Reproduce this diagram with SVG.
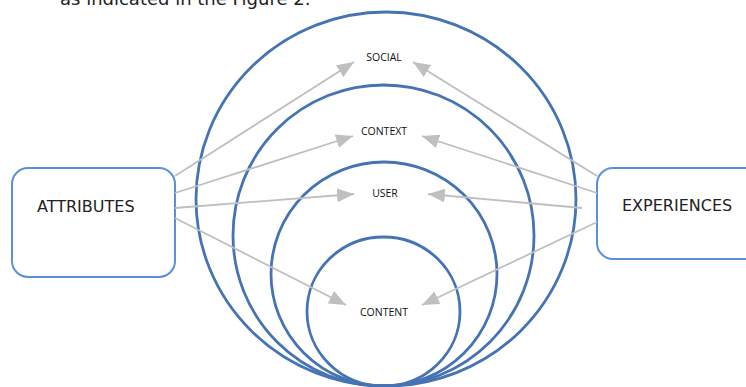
<svg xmlns="http://www.w3.org/2000/svg" width="746" height="387" viewBox="0 0 746 387">
<style>
.ring{fill:none;stroke:#4673b3;stroke-width:2.8}
.box{fill:#fff;stroke:#5b8fd6;stroke-width:2}
.conn{stroke:#bfbfbf;stroke-width:1.8;fill:none;marker-end:url(#ah)}
.lbl{font-family:"Open Sans","Liberation Sans",sans-serif;font-size:10.5px;fill:#111;text-anchor:middle}
.big{font-family:"DejaVu Sans","Liberation Sans",sans-serif;font-size:16px;fill:#222}
.cap{font-family:"DejaVu Sans","Liberation Sans",sans-serif;font-size:18px;fill:#222}
</style>
<defs>
<marker id="ah" viewBox="0 0 17 14" refX="17" refY="7" markerWidth="17" markerHeight="14" markerUnits="userSpaceOnUse" orient="auto">
<path d="M0,0 L17,7 L0,14 z" fill="#bfbfbf"/>
</marker>
</defs>
<rect width="746" height="387" fill="#fff"/>
<text class="cap" x="60" y="5">as indicated in the Figure 2.</text>
<g id="rings">
<g id="social"><ellipse class="ring" cx="386" cy="199" rx="190" ry="187"/><text class="lbl" x="384" y="61">SOCIAL</text></g>
<g id="context"><ellipse class="ring" cx="383.5" cy="235.5" rx="150.5" ry="150.5"/><text class="lbl" x="384" y="135">CONTEXT</text></g>
<g id="user"><ellipse class="ring" cx="384" cy="274" rx="113" ry="112"/><text class="lbl" x="385" y="197">USER</text></g>
<g id="content"><ellipse class="ring" cx="383.5" cy="311.5" rx="76.5" ry="74.5"/><text class="lbl" x="384" y="316">CONTENT</text></g>
</g>
<g id="attributes"><rect class="box" x="12" y="168" width="163" height="109" rx="16"/><text class="big" x="37" y="212">ATTRIBUTES</text></g>
<g id="experiences"><rect class="box" x="597" y="168" width="170" height="91" rx="16"/><text class="big" x="622" y="211">EXPERIENCES</text></g>
<g id="connectors">
<line class="conn" x1="175" y1="176" x2="354" y2="62"/>
<line class="conn" x1="175" y1="193" x2="353" y2="136"/>
<line class="conn" x1="175" y1="208" x2="354" y2="194"/>
<line class="conn" x1="175" y1="218" x2="346" y2="305"/>
<line class="conn" x1="597" y1="176" x2="413" y2="62"/>
<line class="conn" x1="597" y1="193" x2="422" y2="136"/>
<line class="conn" x1="582" y1="208" x2="428" y2="194"/>
<line class="conn" x1="597" y1="222" x2="422" y2="305"/>
</g>
</svg>
